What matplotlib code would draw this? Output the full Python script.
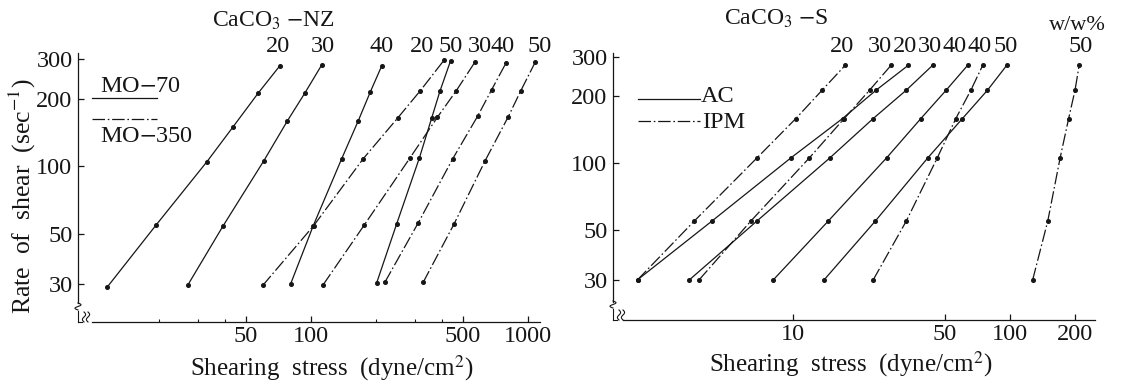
import numpy as np
import matplotlib
matplotlib.use("Agg")
import matplotlib.pyplot as plt
from matplotlib.lines import Line2D

plt.rcParams["font.family"] = ["Liberation Serif", "DejaVu Serif"]
plt.rcParams["mathtext.fontset"] = "stix"
plt.rcParams["font.size"] = 17

# --- CaCO3-NZ dispersions, MO-70 (solid) and MO-350 (dash-dot) ---
nz_conc = ["20", "30", "40", "50", "20", "30", "40", "50"]
nz_oil = ["MO-70", "MO-70", "MO-70", "MO-70", "MO-350", "MO-350", "MO-350", "MO-350"]
nz_stress = [
    [11.5, 19.3, 33.2, 43.8, 57.2, 71.9],
    [27.1, 39.3, 60.7, 77.8, 93.8, 112],
    [80.6, 102.5, 138.5, 165, 188, 212],
    [201, 248, 316, 360, 393, 440],
    [59.9, 103, 174, 251, 318, 411],
    [114, 176, 286, 382, 466, 570],
    [219, 312, 450, 586, 680, 792],
    [329, 456, 635, 811, 925, 1081],
]
nz_rate = [
    [29, 54.7, 105, 150, 212, 280],
    [29.7, 54.2, 106, 159, 212, 282],
    [30, 54.5, 108, 159, 215, 280],
    [30.4, 55.3, 109, 164, 216, 295],
    [29.5, 54.5, 108, 164, 216, 297],
    [29.8, 54.8, 109, 165, 216, 291],
    [30.5, 56, 108, 167, 219, 288],
    [30.5, 55.3, 106, 166, 216, 291],
]

# --- CaCO3-S dispersions, AC (solid) and IPM (dash-dot) ---
s_conc = ["20", "30", "20", "30", "40", "40", "50", "50"]
s_medium = ["IPM", "IPM", "AC", "AC", "AC", "IPM", "AC", "IPM"]
s_stress = [
    [1.92, 3.50, 6.83, 10.3, 13.6, 17.4],
    [3.69, 6.38, 11.9, 17.2, 22.5, 28.3],
    [1.92, 4.22, 9.79, 16.9, 24.1, 34.0],
    [3.33, 6.80, 14.8, 23.4, 33.2, 44.0],
    [8.11, 14.5, 27.0, 38.8, 50.7, 63.8],
    [23.4, 33.2, 46.2, 56.2, 65.9, 74.8],
    [13.9, 23.9, 41.8, 60.3, 78.6, 96.6],
    [127, 149, 170, 186, 199, 208],
]
s_rate = [30, 55, 106, 159, 213, 276]

W, H = 1125, 385
INK = "#161616"
DASHDOT = (0, (10, 2.2, 1.3, 2.2))

fig = plt.figure(figsize=(W / 100, H / 100), dpi=100)


def px_axes(x0, y0, x1, y1):
    return fig.add_axes([x0 / W, 1 - y1 / H, (x1 - x0) / W, (y1 - y0) / H])


def fig_text(x, y, s, **kw):
    fig.text(x / W, 1 - y / H, s, color=INK, **kw)


def fig_curve(xs, ys, ls="-", lw=0.9):
    xs = np.asarray(xs, dtype=float)
    ys = np.asarray(ys, dtype=float)
    fig.add_artist(Line2D(xs / W, 1 - ys / H, transform=fig.transFigure,
                          color=INK, lw=lw, ls=ls))


def style_axes(ax, xlim, ylim, xmajor, xminor, yspine_lo, xspine_lo):
    ax.set_xscale("log")
    ax.set_yscale("log")
    ax.set_xlim(*xlim)
    ax.set_ylim(*ylim)
    for side in ("top", "right"):
        ax.spines[side].set_visible(False)
    for side in ("left", "bottom"):
        ax.spines[side].set_color(INK)
        ax.spines[side].set_linewidth(0.9)
    ax.spines["left"].set_bounds(yspine_lo, ylim[1])
    ax.spines["bottom"].set_bounds(xspine_lo, xlim[1])
    ax.set_xticks(xmajor)
    ax.set_xticklabels([str(v) for v in xmajor])
    ax.set_xticks(xminor, minor=True)
    ax.set_xticklabels([], minor=True)
    ax.set_yticks([30, 50, 100, 200, 300])
    ax.set_yticklabels(["30", "50", "100", "200", "300"])
    ax.yaxis.set_minor_locator(matplotlib.ticker.NullLocator())
    ax.tick_params(which="major", direction="in", length=4, width=0.9,
                   colors=INK, pad=4, labelsize=17.5)
    ax.tick_params(axis="x", which="major", pad=3)
    ax.tick_params(which="minor", direction="in", length=2.5, width=0.8, colors=INK)
    ax.patch.set_alpha(0)


def axis_break(x_axis, y_bottom):
    # wavy marks where both axes are cut short
    t = np.linspace(0, 1, 30)
    fig_curve(x_axis + 3 * np.sin(2 * np.pi * t), y_bottom - 19 + 7 * t, lw=0.8)
    fig_curve([x_axis, x_axis], [y_bottom - 11, y_bottom], lw=0.8)
    fig_curve([x_axis, x_axis + 4], [y_bottom, y_bottom], lw=0.8)
    for dx in (6, 10):
        fig_curve(x_axis + dx + 1.6 * np.sin(2 * np.pi * t), y_bottom - 10 + 10 * t, lw=0.8)


# left panel
ax1 = px_axes(78, 53, 540, 322)
style_axes(ax1, (8.44, 1136), (20.3, 319), [50, 100, 500, 1000],
           [20, 30, 40, 200, 300, 400], 24.7, 9.8)
nz_dx = [-2, 1, 0, 0, -22, 5, -3, 4]
for conc, oil, xs, ys, dx in zip(nz_conc, nz_oil, nz_stress, nz_rate, nz_dx):
    ls = "-" if oil == "MO-70" else DASHDOT
    ax1.plot(xs, ys, color=INK, lw=0.9, ls=ls, marker="o", ms=2.6, mec=INK, mfc=INK)
    ax1.annotate(conc, xy=(xs[-1], 1 - 46 / H), xycoords=("data", "figure fraction"),
                 xytext=(dx * 0.72, 0), textcoords="offset points",
                 ha="center", va="center", color=INK, fontsize=17.5)
axis_break(78, 322)

# right panel
ax2 = px_axes(613, 53, 1095, 320)
style_axes(ax2, (1.48, 246), (19.8, 313), [10, 50, 100, 200], [], 23.9, 1.64)
s_dx = [-3, -11, -3, -3, -13, -3, -1, 1]
for conc, med, xs, dx in zip(s_conc, s_medium, s_stress, s_dx):
    ls = "-" if med == "AC" else DASHDOT
    ax2.plot(xs, s_rate, color=INK, lw=0.9, ls=ls, marker="o", ms=2.6, mec=INK, mfc=INK)
    ax2.annotate(conc, xy=(xs[-1], 1 - 46 / H), xycoords=("data", "figure fraction"),
                 xytext=(dx * 0.72, 0), textcoords="offset points",
                 ha="center", va="center", color=INK, fontsize=17.5)
axis_break(613, 320)

# titles, axis labels and legends
fig_text(274, 21, "CaCO$_3$ $-$NZ", ha="center", va="center", fontsize=17)
fig_text(776, 19, "CaCO$_3$ $-$S", ha="center", va="center", fontsize=17)
fig_text(1077, 25, "w/w%", ha="center", va="center", fontsize=16)
fig_text(22, 196, "Rate  of  shear  (sec$^{-1}$)", rotation=90,
         ha="center", va="center", fontsize=18.5)
fig_text(332, 368, "Shearing  stress  (dyne/cm$^2$)", ha="center", va="center", fontsize=18)
fig_text(851, 364, "Shearing  stress  (dyne/cm$^2$)", ha="center", va="center", fontsize=18)

fig_curve([92, 157], [98, 98])
fig_curve([92, 157], [119, 119], ls=DASHDOT)
fig_text(140, 86, "MO$-$70", ha="center", va="center", fontsize=17.5)
fig_text(147, 137, "MO$-$350", ha="center", va="center", fontsize=17.5)

fig_curve([638, 700], [99, 99])
fig_curve([638, 700], [121, 121], ls=DASHDOT)
fig_text(701, 97, "AC", ha="left", va="center", fontsize=17.5)
fig_text(702, 123, "IPM", ha="left", va="center", fontsize=17.5)

fig.savefig("out.png", dpi=100, facecolor="white")
